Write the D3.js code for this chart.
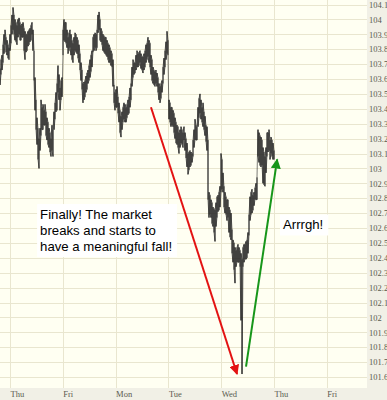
<!DOCTYPE html>
<html>
<head>
<meta charset="utf-8">
<style>
  body { margin: 0; background: #fff; }
  svg { display: block; }
</style>
</head>
<body>
<svg width="387" height="400"></svg>
<script src="https://cdn.jsdelivr.net/npm/d3@7"></script>
<script>

var svg = d3.select("svg"),
    width = +svg.attr("width"),
    height = +svg.attr("height");

// day labels on the time axis (one grid line at the start of each day)
var dayLabels = ["Thu", "Fri", "Mon", "Tue", "Wed", "Thu", "Fri"];

// price ticks on the right axis
var yTicks = d3.range(1016, 1042).map(function(v) { return v / 10; });

// bars are evenly spaced, first bars belong to the day before the first Thu
var barsPerDay = 52.8,
    barsBeforeFirstDay = 10;

// intraday highs / lows
var highs = [
  103.67,103.73,103.76,103.83,103.90,103.93,103.88,103.86,103.83,103.81,
  103.90,103.96,104.03,104.08,104.03,104.00,103.98,103.96,104.00,104.01,
  103.98,103.96,103.97,103.98,103.94,103.92,103.90,103.90,103.92,103.93,
  103.94,103.96,103.98,103.93,103.79,103.61,103.46,103.34,103.27,103.20,
  103.27,103.46,103.41,103.43,103.39,103.43,103.38,103.34,103.31,103.27,
  103.24,103.20,103.29,103.26,103.38,103.44,103.51,103.57,103.69,103.63,
  103.54,103.59,103.61,103.93,104.00,103.98,103.98,103.93,103.88,103.91,
  103.93,103.90,103.86,103.84,103.88,103.91,103.90,103.88,103.86,103.83,
  103.77,103.71,103.66,103.57,103.58,103.59,103.62,103.64,103.66,103.69,
  103.73,103.76,103.79,103.88,103.90,103.91,103.90,103.93,104.03,104.05,
  104.00,103.94,103.92,103.90,103.89,103.88,103.88,103.86,103.84,103.83,
  103.81,103.79,103.77,103.73,103.56,103.51,103.53,103.55,103.48,103.44,
  103.39,103.35,103.38,103.41,103.44,103.43,103.41,103.43,103.46,103.48,
  103.54,103.57,103.68,103.73,103.71,103.71,103.76,103.79,103.77,103.78,
  103.79,103.77,103.75,103.75,103.77,103.79,103.83,103.84,103.88,103.86,
  103.84,103.76,103.73,103.68,103.66,103.65,103.66,103.64,103.61,103.57,
  103.55,103.57,103.59,103.68,103.74,103.79,103.85,103.92,103.86,103.46,
  103.44,103.41,103.41,103.39,103.37,103.34,103.31,103.29,103.28,103.24,
  103.26,103.28,103.26,103.24,103.28,103.24,103.20,103.17,103.10,103.11,
  103.12,103.11,103.10,103.19,103.26,103.33,103.29,103.28,103.41,103.47,
  103.50,103.46,103.41,103.44,103.38,103.35,103.29,103.28,103.19,102.84,
  102.82,102.79,102.77,102.74,102.73,102.72,102.77,102.81,102.82,102.84,
  102.88,103.10,103.06,102.97,102.88,102.84,102.81,102.79,102.79,102.74,
  102.72,102.70,102.59,102.52,102.50,102.47,102.45,102.47,102.49,102.47,
  102.45,102.43,102.39,102.47,102.49,102.49,102.51,102.52,102.57,102.69,
  102.81,102.84,102.86,102.82,102.84,102.87,102.90,102.94,103.26,103.24,
  103.22,103.21,103.19,103.14,103.11,103.08,103.14,103.24,103.24,103.26,
  103.19,103.21,103.19,103.17,103.12
];

var lows = [
  103.56,103.63,103.66,103.71,103.77,103.83,103.78,103.76,103.74,103.73,
  103.79,103.84,103.90,103.93,103.90,103.86,103.85,103.83,103.88,103.90,
  103.86,103.86,103.88,103.88,103.79,103.73,103.78,103.79,103.82,103.83,
  103.85,103.86,103.90,103.79,103.59,103.39,103.26,103.16,103.06,103.00,
  103.12,103.22,103.26,103.26,103.29,103.29,103.22,103.19,103.16,103.14,
  103.11,103.08,103.12,103.08,103.26,103.33,103.38,103.39,103.51,103.46,
  103.39,103.46,103.48,103.76,103.86,103.85,103.84,103.81,103.77,103.79,
  103.81,103.76,103.73,103.71,103.76,103.79,103.78,103.77,103.74,103.71,
  103.66,103.59,103.53,103.44,103.46,103.48,103.51,103.53,103.57,103.59,
  103.61,103.65,103.68,103.78,103.79,103.81,103.79,103.81,103.91,103.93,
  103.86,103.85,103.83,103.79,103.78,103.77,103.76,103.75,103.73,103.71,
  103.71,103.69,103.68,103.55,103.44,103.39,103.41,103.41,103.37,103.31,
  103.24,103.21,103.26,103.31,103.33,103.31,103.31,103.34,103.36,103.37,
  103.41,103.46,103.55,103.61,103.63,103.64,103.66,103.68,103.68,103.69,
  103.71,103.67,103.66,103.64,103.66,103.68,103.71,103.73,103.75,103.71,
  103.68,103.63,103.59,103.57,103.56,103.55,103.57,103.55,103.51,103.46,
  103.44,103.47,103.51,103.57,103.63,103.68,103.73,103.77,103.76,103.33,
  103.31,103.28,103.29,103.28,103.24,103.20,103.17,103.16,103.14,103.10,
  103.14,103.17,103.16,103.14,103.19,103.12,103.07,103.01,102.96,102.99,
  103.01,103.02,103.04,103.08,103.14,103.19,103.19,103.19,103.28,103.34,
  103.37,103.33,103.31,103.28,103.26,103.22,103.18,103.12,102.79,102.67,
  102.69,102.67,102.63,102.61,102.57,102.51,102.61,102.67,102.71,102.72,
  102.74,102.84,102.86,102.84,102.74,102.70,102.69,102.65,102.67,102.57,
  102.54,102.52,102.43,102.37,102.32,102.23,102.34,102.37,102.37,102.37,
  102.34,101.98,101.62,102.34,102.37,102.39,102.39,102.40,102.43,102.55,
  102.65,102.69,102.70,102.72,102.75,102.79,102.79,102.79,103.08,103.04,
  103.02,103.01,103.02,102.90,102.89,102.88,102.97,103.08,103.11,103.12,
  103.06,103.10,103.08,103.06,103.06
];

// annotations, placed in chart units (day, price)
var arrows = [
  {from: [2.67, 103.41], to: [4.30, 101.62], color: "#e31212"},
  {from: [4.47, 101.67], to: [5.06, 103.06], color: "#17961a"}
];
var notes = [
  {at: [0.57, 102.66], lines: ["Finally! The market", "breaks and starts to", "have a meaningful fall!"]},
  {at: [5.17, 102.59], lines: ["Arrrgh!"]}
];

var plotRight = 367,
    plotBottom = 388;

var x = d3.scaleLinear().domain([0, 6]).range([10, 10 + 6 * barsPerDay]);
var y = d3.scaleLinear().domain([101.6, 104.1]).range([377, 4.5]);

// backgrounds
svg.append("rect").attr("width", width).attr("height", height).attr("fill", "#f1f0e6");
svg.append("rect").attr("width", plotRight).attr("height", plotBottom).attr("fill", "#fffff2");

// grid
var grid = svg.append("g").attr("stroke", "#e9e6cf").attr("stroke-width", 1).attr("shape-rendering", "crispEdges");
grid.selectAll(".h").data(yTicks).enter().append("line")
    .attr("x1", 0).attr("x2", plotRight)
    .attr("y1", function(d) { return Math.round(y(d)) + 0.5; })
    .attr("y2", function(d) { return Math.round(y(d)) + 0.5; });
grid.selectAll(".v").data(dayLabels).enter().append("line")
    .attr("y1", 0).attr("y2", plotBottom)
    .attr("x1", function(d, i) { return Math.round(x(i)) + 0.5; })
    .attr("x2", function(d, i) { return Math.round(x(i)) + 0.5; });

// right axis
var yAxis = d3.axisRight(y).tickValues(yTicks).tickSize(0).tickPadding(2)
    .tickFormat(function(d) { return d3.format(".1f")(d).replace(/\.0$/, ""); });
var gy = svg.append("g").attr("transform", "translate(" + plotRight + ",0)").call(yAxis);
gy.select(".domain").remove();
gy.selectAll("text").attr("fill", "#5a5a50").attr("font-family", "Liberation Serif, serif").attr("font-size", 8.5);

// bottom labels
svg.append("g").selectAll("text").data(dayLabels).enter().append("text")
    .attr("x", function(d, i) { return x(i) + 0.5; })
    .attr("y", 397)
    .attr("fill", "#5a5a50")
    .attr("font-family", "Liberation Serif, serif")
    .attr("font-size", 8.5)
    .text(function(d) { return d; });

// price bars
var bars = highs.map(function(h, i) {
  return {day: (i - barsBeforeFirstDay) / barsPerDay, high: h, low: lows[i]};
});

svg.append("g").attr("stroke", "#222").attr("stroke-width", 0.9)
  .selectAll("line").data(bars).enter().append("line")
    .attr("x1", function(d) { return x(d.day); })
    .attr("x2", function(d) { return x(d.day); })
    .attr("y1", function(d) { return y(d.high); })
    .attr("y2", function(d) { return y(d.low); });

// zigzag through the bars so neighbouring bars join up
var zig = [];
bars.forEach(function(d, i) {
  if (i % 2) { zig.push([d.day, d.low], [d.day, d.high]); }
  else { zig.push([d.day, d.high], [d.day, d.low]); }
});
svg.append("path")
    .attr("d", d3.line().x(function(d) { return x(d[0]); }).y(function(d) { return y(d[1]); })(zig))
    .attr("fill", "none").attr("stroke", "#222").attr("stroke-width", 0.6);

// arrows
var defs = svg.append("defs");
arrows.forEach(function(a, i) {
  defs.append("marker").attr("id", "head" + i)
      .attr("viewBox", "0 0 10 10").attr("refX", 9).attr("refY", 5)
      .attr("markerWidth", 5).attr("markerHeight", 5).attr("orient", "auto")
    .append("path").attr("d", "M0,0L10,5L0,10z").attr("fill", a.color);
  svg.append("line")
      .attr("x1", x(a.from[0])).attr("y1", y(a.from[1]))
      .attr("x2", x(a.to[0])).attr("y2", y(a.to[1]))
      .attr("stroke", a.color).attr("stroke-width", 2)
      .attr("marker-end", "url(#head" + i + ")");
});

// text notes on white boxes
notes.forEach(function(n) {
  var g = svg.append("g");
  var box = g.append("rect").attr("fill", "#ffffff");
  var t = g.append("text")
      .attr("font-family", "Liberation Sans, Arial, sans-serif")
      .attr("font-size", 13.2)
      .attr("fill", "#000");
  n.lines.forEach(function(l, k) {
    t.append("tspan").attr("x", x(n.at[0])).attr("y", y(n.at[1]) + k * 16).text(l);
  });
  var b = t.node().getBBox();
  box.attr("x", b.x - 3).attr("y", b.y - 3).attr("width", b.width + 8).attr("height", b.height + 6);
});

</script>
</body>
</html>
